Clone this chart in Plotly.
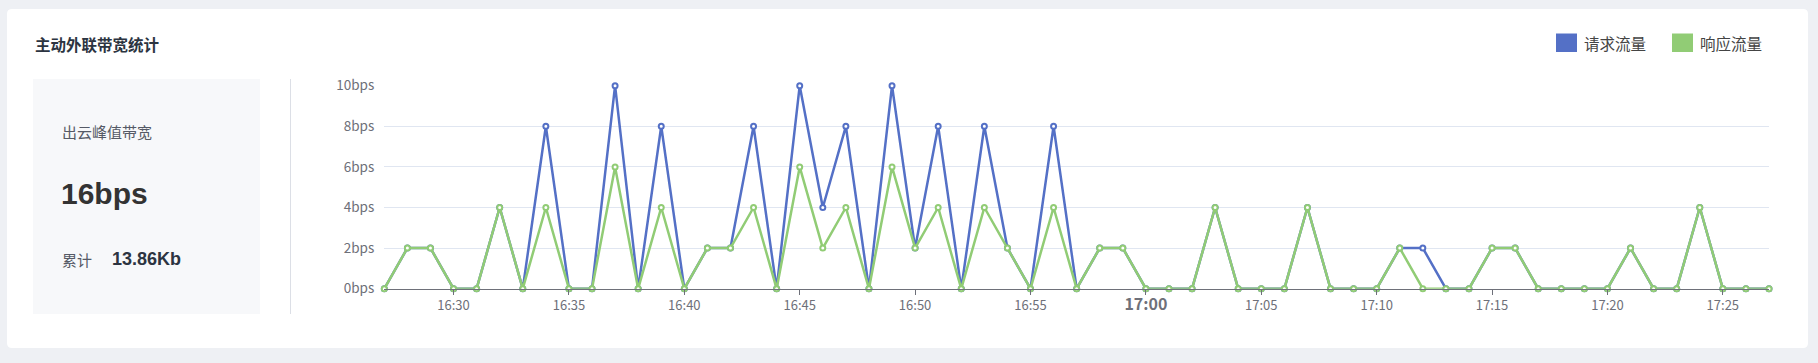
import plotly.graph_objects as go

# ---------------- data ----------------
times = ["16:27", "16:28", "16:29", "16:30", "16:31", "16:32", "16:33", "16:34", "16:35", "16:36",
         "16:37", "16:38", "16:39", "16:40", "16:41", "16:42", "16:43", "16:44", "16:45", "16:46",
         "16:47", "16:48", "16:49", "16:50", "16:51", "16:52", "16:53", "16:54", "16:55", "16:56",
         "16:57", "16:58", "16:59", "17:00", "17:01", "17:02", "17:03", "17:04", "17:05", "17:06",
         "17:07", "17:08", "17:09", "17:10", "17:11", "17:12", "17:13", "17:14", "17:15", "17:16",
         "17:17", "17:18", "17:19", "17:20", "17:21", "17:22", "17:23", "17:24", "17:25", "17:26",
         "17:27"]
request_bps = [0, 2, 2, 0, 0, 4, 0, 8, 0, 0,
               10, 0, 8, 0, 2, 2, 8, 0, 10, 4,
               8, 0, 10, 2, 8, 0, 8, 2, 0, 8,
               0, 2, 2, 0, 0, 0, 4, 0, 0, 0,
               4, 0, 0, 0, 2, 2, 0, 0, 2, 2,
               0, 0, 0, 0, 2, 0, 0, 4, 0, 0,
               0]
response_bps = [0, 2, 2, 0, 0, 4, 0, 4, 0, 0,
                6, 0, 4, 0, 2, 2, 4, 0, 6, 2,
                4, 0, 6, 2, 4, 0, 4, 2, 0, 4,
                0, 2, 2, 0, 0, 0, 4, 0, 0, 0,
                4, 0, 0, 0, 2, 0, 0, 0, 2, 2,
                0, 0, 0, 0, 2, 0, 0, 4, 0, 0,
                0]
series_names = ["请求流量", "响应流量"]
series_colors = ["#5470c6", "#91cc75"]
x_tick_labels = ["16:30", "16:35", "16:40", "16:45", "16:50", "16:55", "17:00",
                 "17:05", "17:10", "17:15", "17:20", "17:25"]
y_tick_values = [0, 2, 4, 6, 8, 10]
y_tick_labels = ["0bps", "2bps", "4bps", "6bps", "8bps", "10bps"]
title_text = "主动外联带宽统计"
peak_label = "出云峰值带宽"
peak_value = "16bps"
total_label = "累计"
total_value = "13.86Kb"

DAY = "2024-01-01 "
W, H = 1818, 363


def px(x):
    return x / W


def py(y):
    return 1 - y / H


x_dt = [DAY + t + ":00" for t in times]
tick_dt = [DAY + t + ":00" for t in x_tick_labels]
tick_txt = [("<b><span style='font-size:16px'>%s</span></b>" % t) if t.endswith(":00") else t
            for t in x_tick_labels]

fig = go.Figure()
for name, vals, col in zip(series_names, [request_bps, response_bps], series_colors):
    fig.add_trace(go.Scatter(
        x=x_dt, y=vals, name=name, mode="lines+markers",
        line=dict(color=col, width=2.5),
        marker=dict(symbol="circle", size=5, color="white", line=dict(color=col, width=2)),
        showlegend=False, hoverinfo="x+y", cliponaxis=False,
    ))

CJK = "Noto Sans CJK SC, Noto Sans, sans-serif"
LAT = "Liberation Sans, Arial, Noto Sans CJK SC, sans-serif"

x0, x1 = 384.3, 1769
y0, y1 = 288.7, 85.7

fig.update_layout(
    width=W, height=H,
    margin=dict(l=0, r=0, t=0, b=0),
    paper_bgcolor="#eef0f4",
    plot_bgcolor="rgba(0,0,0,0)",
    font=dict(family=CJK, color="#6e7079", size=13),
    xaxis=dict(
        domain=[px(x0), px(x1)],
        type="date",
        range=[x_dt[0], x_dt[-1]],
        tickvals=tick_dt, ticktext=tick_txt,
        showgrid=False, zeroline=False,
        showline=True, linecolor="#6e7079", linewidth=1,
        ticks="outside", ticklen=5, tickcolor="#6e7079", tickwidth=1,
        tickfont=dict(size=13, color="#6e7079", family=CJK),
        automargin=False, fixedrange=True,
    ),
    yaxis=dict(
        domain=[py(y0), py(y1)],
        range=[0, 10],
        tickvals=y_tick_values, ticktext=y_tick_labels,
        showgrid=True, gridcolor="#e0e6f1", gridwidth=1,
        zeroline=False, showline=False, ticks="",
        ticklabelstandoff=9,
        tickfont=dict(size=13.5, color="#6e7079", family=CJK),
        automargin=False, fixedrange=True,
    ),
)

shapes = []
# card with rounded corners
cx0, cy0, cx1, cy1, r = 7, 9, 1808, 348, 5
path = ("M {a},{b} L {c},{b} Q {d},{b} {d},{e} L {d},{f} Q {d},{g} {c},{g} "
        "L {a},{g} Q {h},{g} {h},{f} L {h},{e} Q {h},{b} {a},{b} Z").format(
    a=px(cx0 + r), b=py(cy0), c=px(cx1 - r), d=px(cx1), e=py(cy0 + r),
    f=py(cy1 - r), g=py(cy1), h=px(cx0))
shapes.append(dict(type="path", xref="paper", yref="paper", path=path,
                   fillcolor="white", line=dict(width=0), layer="below"))
# left stat box
shapes.append(dict(type="rect", xref="paper", yref="paper",
                   x0=px(33), x1=px(260), y0=py(314), y1=py(79),
                   fillcolor="#f7f8fa", line=dict(width=0), layer="below"))
# separator
shapes.append(dict(type="line", xref="paper", yref="paper",
                   x0=px(290.5), x1=px(290.5), y0=py(314), y1=py(79),
                   line=dict(color="#dcdfe6", width=1), layer="below"))
# legend squares
legend_sq_x = [1556, 1672]
for sx, col in zip(legend_sq_x, series_colors):
    shapes.append(dict(type="rect", xref="paper", yref="paper",
                       x0=px(sx), x1=px(sx + 21), y0=py(52), y1=py(33.5),
                       fillcolor=col, line=dict(width=0)))
fig.update_layout(shapes=shapes)

ann = []


def text(x, y, s, size, color, family=CJK, bold=False):
    ann.append(dict(xref="paper", yref="paper", x=px(x), y=py(y), text=("<b>%s</b>" % s) if bold else s,
                    showarrow=False, xanchor="left", yanchor="middle",
                    font=dict(size=size, color=color, family=family)))


text(33, 43.5, title_text, 15.5, "#2c3441", bold=True)
text(59.5, 131, peak_label, 15, "#555a66")
text(59, 194, peak_value, 30, "#333333", family=LAT, bold=True)
text(59.5, 259, total_label, 15, "#555a66")
text(110, 259, total_value, 18, "#2c3441", family=LAT, bold=True)
for sx, name in zip(legend_sq_x, series_names):
    text(sx + 26, 43, name, 15.5, "#444444")
fig.update_layout(annotations=ann)

fig.write_html("out.html", include_plotlyjs=True, config={"displayModeBar": False},
               post_script="document.body.style.margin='0';document.body.style.overflow='hidden';")
